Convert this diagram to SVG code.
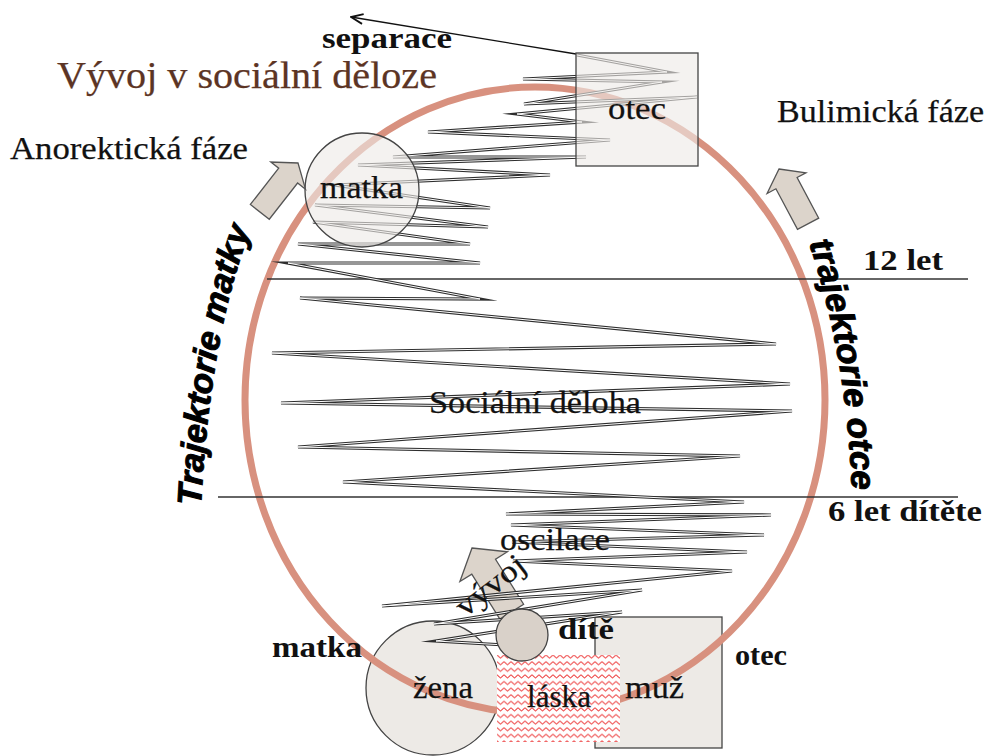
<svg xmlns="http://www.w3.org/2000/svg" width="987" height="756" viewBox="0 0 987 756">
<style>
.t{font-family:"Liberation Serif","Times New Roman",serif;font-size:31px;fill:#111;stroke:#111;stroke-width:0.25}
.b{font-family:"Liberation Serif","Times New Roman",serif;font-size:30px;font-weight:bold;fill:#111}
.tr{font-family:"Liberation Sans",Arial,sans-serif;font-size:34px;font-weight:bold;font-style:italic;fill:#000;stroke:#000;stroke-width:1}
.shape{fill:#EDEAE6;stroke:#444;stroke-width:1.3}
.shapeT{fill:#EDEAE6;fill-opacity:0.62;stroke:#444;stroke-width:1.3}
.blk{fill:#DCD4CB;stroke:#555;stroke-width:1.3}
.zo{fill:none;stroke:#2e2e2e;stroke-width:3.2;stroke-linejoin:miter;stroke-miterlimit:12}
.zi{fill:none;stroke:#fff;stroke-width:1;stroke-linejoin:miter;stroke-miterlimit:12}
.hl{stroke:#333;stroke-width:1.4}
</style>
<defs>
<pattern id="zz" width="7" height="6.6" patternUnits="userSpaceOnUse">
<path d="M0,1.6 L3.5,4.8 L7,1.6" fill="none" stroke="#EE4848" stroke-width="1"/>
</pattern>
<marker id="open" viewBox="0 0 14 12" refX="13" refY="6" markerWidth="14" markerHeight="12" markerUnits="userSpaceOnUse" orient="auto">
<path d="M1,1 L13,6 L1,11" fill="none" stroke="#111" stroke-width="1.8"/>
</marker>
<path id="zig" d="M577,55 L667,72 L523,79 L662,82 L524,104 L697,97 L517,114 L582,122 L428,132 L610,140 L393,157 L586,157 L358,165 L550,175 L335,185 L490,208 L315,205 L488,227 L313,222 L470,244 L298,244 L480,263 L288,263 L480,299 L300,298 L776,344 L272,353 L790,384 L281,403 L792,411 L298,447 L740,456 L343,482 L744,502 L506,514 L771,515 L511,525 L764,535 L512,542 L747,552 L513,561 L732,571 L382,606 L642,590 L434,624 L622,612 L436,641 L505,645"/>
<path id="pm" d="M201,506 Q210,330 254,220"/>
<path id="po" d="M809,243 Q848,360 852,498"/>
</defs>

<g id="node-zena"><circle class="shape" cx="433" cy="688" r="67"/></g>
<g id="node-muz"><rect class="shape" x="595" y="617" width="127" height="131"/></g>

<g id="social-womb">
<ellipse cx="535" cy="400" rx="290" ry="313" fill="none" stroke="#D8917F" stroke-width="7"/>
</g>

<g id="age-lines">
<line class="hl" x1="267" y1="279" x2="968" y2="279"/>
<line class="hl" x1="218" y1="497" x2="958" y2="497"/>
</g>

<g id="node-vyvoj-arrow">
<polygon class="blk" transform="translate(472,548) rotate(-32)" points="0,0 28,22 14,22 14,75 -14,75 -14,22 -28,22"/>
</g>

<g id="connectors">
<use href="#zig" class="zo"/>
<use href="#zig" class="zi"/>
<line x1="576" y1="54" x2="351" y2="17" stroke="#111" stroke-width="1.3" marker-end="url(#open)"/>
</g>

<g id="node-matka-top"><circle class="shapeT" cx="362" cy="190" r="57"/></g>
<g id="node-otec-top"><rect class="shapeT" x="576" y="53" width="122" height="113"/></g>

<g id="node-laska">
<rect x="497" y="655" width="123" height="87" fill="#fff"/>
<rect x="497" y="655" width="123" height="87" fill="url(#zz)"/>
</g>

<g id="node-dite"><circle cx="522" cy="635" r="26" fill="#D9D1C9" stroke="#444" stroke-width="1.3"/></g>

<g id="phase-arrows">
<polygon class="blk" transform="translate(298,163) rotate(38)" points="0,0 22,16 12,16 12,62 -12,62 -12,16 -22,16"/>
<polygon class="blk" transform="translate(779,169) rotate(-28)" points="0,0 22,16 12,16 12,62 -12,62 -12,16 -22,16"/>
</g>

<g id="labels">
<text x="57" y="88" font-family="Liberation Serif,Times New Roman,serif" font-size="38" fill="#5C3424" stroke="#5C3424" stroke-width="0.25" textLength="380" lengthAdjust="spacingAndGlyphs">Vývoj v sociální děloze</text>
<text class="b" x="322" y="48" font-size="31" textLength="130" lengthAdjust="spacingAndGlyphs">separace</text>
<text class="t" x="10" y="159" textLength="238" lengthAdjust="spacingAndGlyphs">Anorektická fáze</text>
<text class="t" x="777" y="122" textLength="207" lengthAdjust="spacingAndGlyphs">Bulimická fáze</text>
<text class="t" x="608" y="119" textLength="58" lengthAdjust="spacingAndGlyphs">otec</text>
<text class="t" x="320" y="198" textLength="83" lengthAdjust="spacingAndGlyphs">matka</text>
<text class="b" x="863" y="270" textLength="80" lengthAdjust="spacingAndGlyphs">12 let</text>
<text class="b" x="828" y="521" textLength="154" lengthAdjust="spacingAndGlyphs">6 let dítěte</text>
<text class="t" x="429" y="413" textLength="212" lengthAdjust="spacingAndGlyphs">Sociální děloha</text>
<text class="t" x="500" y="550" font-size="30" textLength="110" lengthAdjust="spacingAndGlyphs">oscilace</text>
<text class="t" x="0" y="0" font-size="30" transform="translate(465,618) rotate(-38)" textLength="80" lengthAdjust="spacingAndGlyphs">vývoj</text>
<text class="b" x="558" y="639" textLength="56" lengthAdjust="spacingAndGlyphs">dítě</text>
<text class="b" x="272" y="657" textLength="90" lengthAdjust="spacingAndGlyphs">matka</text>
<text class="b" x="735" y="665" textLength="52" lengthAdjust="spacingAndGlyphs">otec</text>
<text class="t" x="413" y="698" font-size="30" textLength="60" lengthAdjust="spacingAndGlyphs">žena</text>
<text class="t" x="527" y="707" font-size="30" textLength="64" lengthAdjust="spacingAndGlyphs">láska</text>
<text class="t" x="625" y="698" font-size="30" textLength="59" lengthAdjust="spacingAndGlyphs">muž</text>
<text class="tr"><textPath href="#pm" textLength="282" lengthAdjust="spacingAndGlyphs">Trajektorie matky</textPath></text>
<text class="tr"><textPath href="#po" textLength="252" lengthAdjust="spacingAndGlyphs">trajektorie otce</textPath></text>
</g>
</svg>
